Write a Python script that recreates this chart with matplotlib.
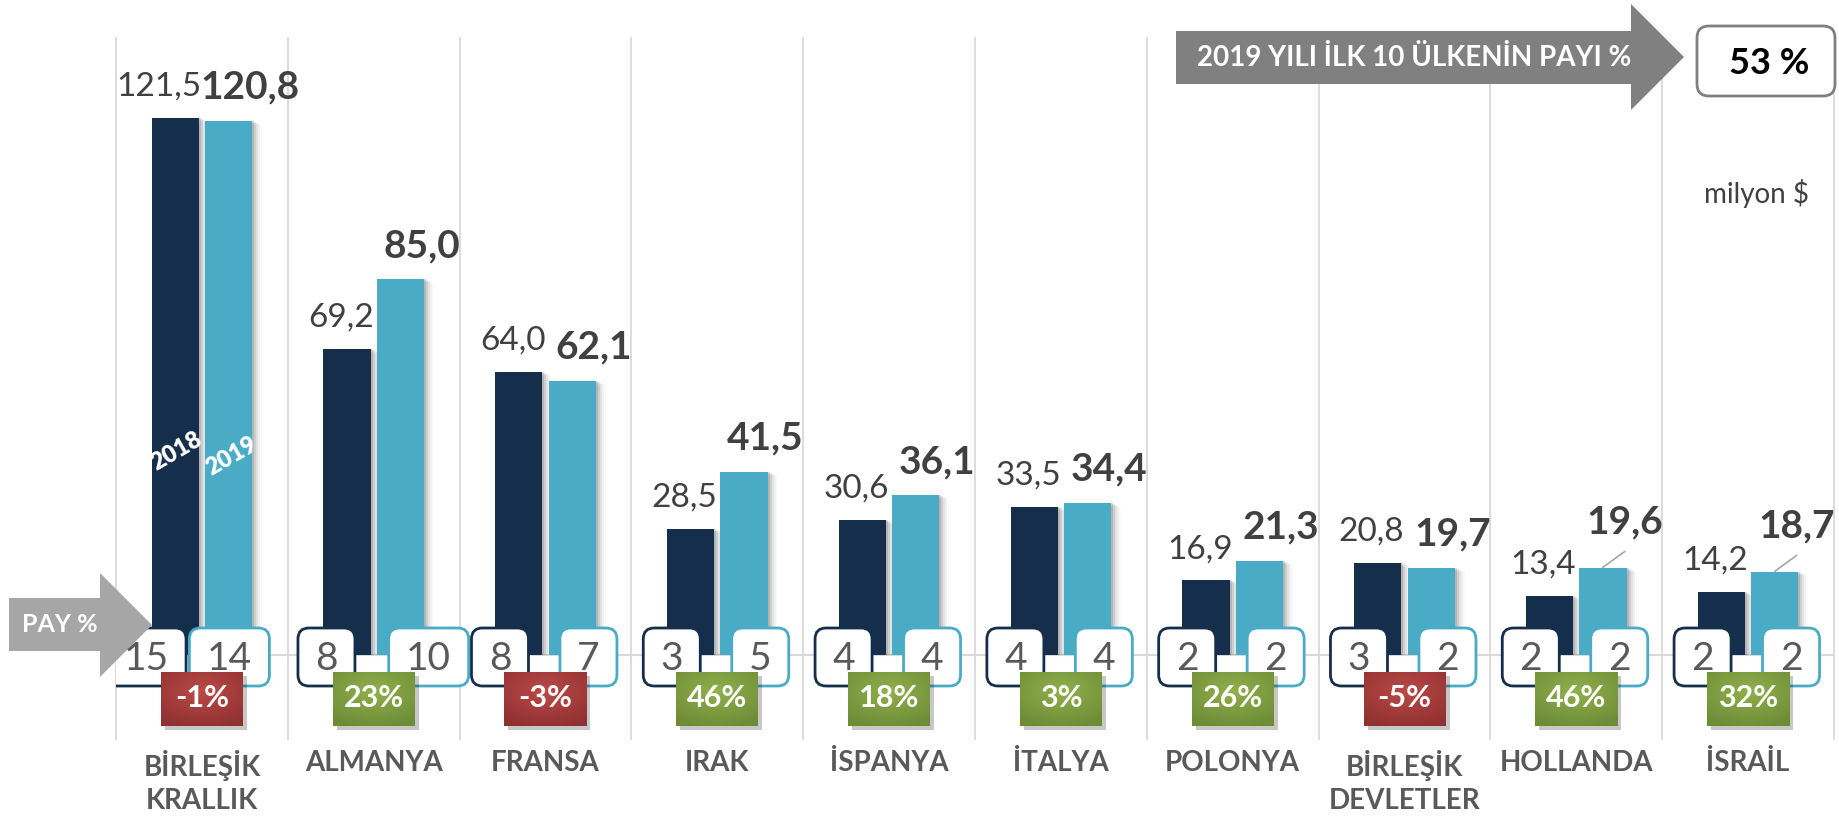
import numpy as np
import matplotlib
matplotlib.use("Agg")
from matplotlib import pyplot as plt
from matplotlib import transforms
from matplotlib.colors import LinearSegmentedColormap
from matplotlib.patches import FancyBboxPatch, Rectangle, Polygon

# data (milyon $)
countries = ["BİRLEŞİK\nKRALLIK", "ALMANYA", "FRANSA", "IRAK", "İSPANYA",
             "İTALYA", "POLONYA", "BİRLEŞİK\nDEVLETLER", "HOLLANDA", "İSRAİL"]
exp_2018 = [121.5, 69.2, 64.0, 28.5, 30.6, 33.5, 16.9, 20.8, 13.4, 14.2]
exp_2019 = [120.8, 85.0, 62.1, 41.5, 36.1, 34.4, 21.3, 19.7, 19.6, 18.7]
share_2018 = [15, 8, 8, 3, 4, 4, 2, 3, 2, 2]
share_2019 = [14, 10, 7, 5, 4, 4, 2, 2, 2, 2]
change = [-1, 23, -3, 46, 18, 3, 26, -5, 46, 32]
top10_share = 53

DARK = "#142e4c"
LIGHT = "#4aabc6"
GRID = "#d9d9d9"

# hand placed label tweaks (as in the original slide)
box_nudge18 = [-0.06, -0.01, 0, 0, 0, 0, 0, 0, 0, 0]
box_nudge19 = [-0.09, 0.07, 0, 0, 0, 0, 0, 0, 0, 0]
lift19 = [0, 0, 0, 0, 0, 0, 0, 0, 9, 9]   # points, labels with leader lines

plt.rcParams['font.family'] = ['Lato', 'DejaVu Sans']

W, H = 1840, 819
fig = plt.figure(figsize=(W / 100, H / 100), dpi=100)

# axes placement in pixels (measured from top-left)
ax_l, ax_r, ax_t, ax_b = 116, 1834, 38, 739
base = 655      # pixel row of zero line
ppu = 4.42      # pixels per milyon $
ax = fig.add_axes([ax_l / W, 1 - ax_b / H, (ax_r - ax_l) / W, (ax_b - ax_t) / H])
n = len(countries)
xlim = (0, n)
ylim = (-(ax_b - base) / ppu, (base - ax_t) / ppu)
ax.axis('off')

ppx = (ax_r - ax_l) / n  # pixels per category


def dx(p):
  return p / ppx


def dy(p):
  return p / ppu


# pixel transform for the decorations (y downwards)
pix = transforms.Affine2D().scale(1 / W, -1 / H).translate(0, 1) + fig.transFigure

# grid
for i in range(n + 1):
  ax.plot([i, i], ylim, color=GRID, lw=1.3, zorder=0, clip_on=False)
ax.axhline(0, color=GRID, lw=1.5, zorder=0)

x = np.arange(n) + 0.5
off, bw = 0.155, 0.275

# soft shadows of the bars
for k, a in enumerate([0.12, 0.09, 0.06, 0.035, 0.02]):
  sh = dx(2 * (k + 1))
  ax.bar(x - off + sh, np.array(exp_2018) - dy(k), bw, color='black', alpha=a, zorder=1, lw=0)
  ax.bar(x + off + sh, np.array(exp_2019) - dy(k), bw, color='black', alpha=a, zorder=1, lw=0)

ax.bar(x - off, exp_2018, bw, color=DARK, zorder=2, lw=0)
ax.bar(x + off, exp_2019, bw, color=LIGHT, zorder=2, lw=0)

# value labels
for i in range(n):
  ax.annotate(f"{exp_2018[i]:.1f}".replace('.', ','), (x[i], exp_2018[i]),
              xytext=(0, 16), textcoords='offset points', ha='right', va='baseline',
              fontsize=24, color='#404040', zorder=6)
  ax.annotate(f"{exp_2019[i]:.1f}".replace('.', ','), (x[i] + 0.28, exp_2019[i]),
              xytext=(0, 16 + lift19[i]), textcoords='offset points', ha='center', va='baseline',
              fontsize=28, fontweight='bold', color='#404040', zorder=6)
  if lift19[i]:
    # leader line from bar top to the moved label
    ax.annotate("", xy=(x[i] + off, exp_2019[i] + dy(1)), xytext=(x[i] + off + dx(22), exp_2019[i] + dy(17)),
                arrowprops=dict(arrowstyle='-', color='#a6a6a6', lw=1.2, shrinkA=0, shrinkB=0))

# year tags inside the first pair
ax.text(x[0] - off + 0.01, 46, "2018", rotation=30, ha='center', va='center',
        fontsize=17, fontweight='heavy', color='white', zorder=3)
ax.text(x[0] + off + 0.02, 45, "2019", rotation=30, ha='center', va='center',
        fontsize=17, fontweight='heavy', color='white', zorder=3)


# share boxes
def share_box(cx, val, edge):
  w = dx(57 if val < 10 else 80)
  h = dy(58)
  p = FancyBboxPatch((cx - w / 2, -h / 2 - dy(2)), w, h,
                     boxstyle=f"round,pad=0,rounding_size={dx(11)}",
                     mutation_aspect=dy(1) / dx(1),
                     fc='white', ec=edge, lw=2, zorder=3)
  ax.add_patch(p)
  ax.text(cx, -dy(15), str(val), ha='center', va='baseline', fontsize=28,
          color='#595959', zorder=5)


for i in range(n):
  share_box(x[i] - 0.265 + box_nudge18[i], share_2018[i], DARK)
  share_box(x[i] + 0.25 + box_nudge19[i], share_2019[i], LIGHT)

# change boxes with a soft radial gradient
green = LinearSegmentedColormap.from_list('g', ['#90b04c', '#6e8c36'])
red = LinearSegmentedColormap.from_list('r', ['#bb4a48', '#8f3130'])
gy, gx = np.mgrid[-1:1:40j, -1:1:60j]
rad = np.clip(np.hypot(gx * 0.9, gy + 0.3) / 1.4, 0, 1)
cw, ch, cy = dx(82), dy(54), -dy(44)
for i in range(n):
  cmap = green if change[i] >= 0 else red
  ax.add_patch(Rectangle((x[i] - cw / 2 + dx(4), cy - ch / 2 - dy(4)), cw, ch,
                         fc='black', alpha=0.22, lw=0, zorder=5.5))
  ax.imshow(rad, cmap=cmap, vmin=0, vmax=1, aspect='auto', origin='upper', zorder=6,
            extent=(x[i] - cw / 2, x[i] + cw / 2, cy - ch / 2, cy + ch / 2))
  ax.text(x[i], -dy(52), f"{change[i]}%", ha='center', va='baseline', fontsize=22,
          fontweight='bold', color='white', zorder=7)

# country names
for i in range(n):
  ax.text(x[i], -dy(95), countries[i], ha='center', va='top', fontsize=20,
          fontweight='bold', color='#595959', linespacing=1.35, clip_on=False)

# PAY % arrow
pay = Polygon([(9, 598), (100, 598), (100, 573), (152, 625), (100, 677), (100, 651), (9, 651)],
              closed=True, fc='#a6a6a6', ec='none', transform=pix, clip_on=False, zorder=4)
ax.add_patch(pay)
ax.text(60, 625, "PAY %", transform=pix, ha='center', va='center', fontsize=18,
        fontweight='bold', color='white', zorder=4.5)

# top arrow + total share box
top = Polygon([(1176, 31), (1631, 31), (1631, 4), (1684, 57), (1631, 110), (1631, 84), (1176, 84)],
              closed=True, fc='#808080', ec='none', transform=pix, clip_on=False, zorder=4)
ax.add_patch(top)
ax.text(1197, 58, "2019 YILI İLK 10 ÜLKENİN PAYI %", transform=pix, ha='left', va='center',
        fontsize=20, fontweight='bold', color='white', zorder=4.5)

box = FancyBboxPatch((1697, 26), 138, 70, boxstyle="round,pad=0,rounding_size=12",
                     transform=pix, fc='white', ec='#7f7f7f', lw=2, clip_on=False, zorder=4)
ax.add_patch(box)
ax.text(1769, 63, f"{top10_share} %", transform=pix, ha='center', va='center',
        fontsize=26, fontweight='bold', color='black', zorder=4.5)

ax.text(1704, 203, "milyon $", transform=pix, ha='left', va='baseline', fontsize=20,
        color='#404040', zorder=4.5)

ax.set_xlim(*xlim)
ax.set_ylim(*ylim)

fig.savefig('out.png', dpi=100)
